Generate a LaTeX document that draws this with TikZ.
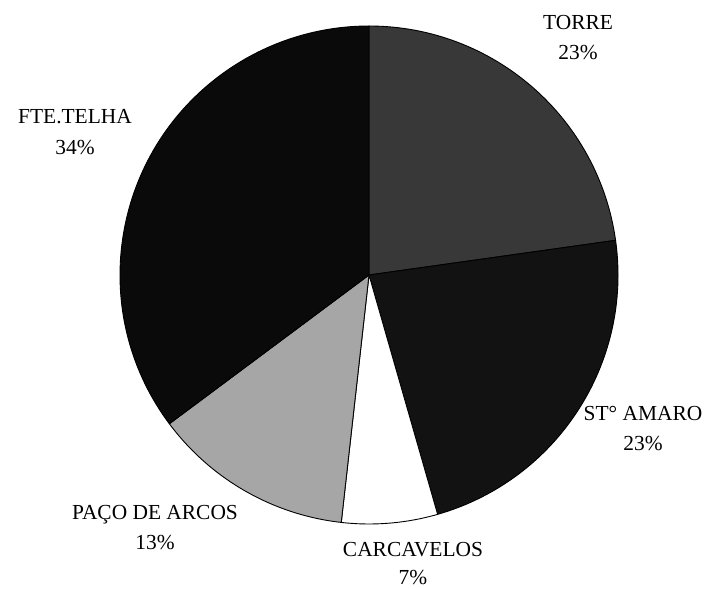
\documentclass[tikz,border=0pt]{standalone}
\usepackage{fontspec}
\setmainfont{Liberation Serif}
\usetikzlibrary{positioning}

\tikzset{
  slice/.style = {draw=black, line width=0.9bp, line join=round},
  lbl/.style   = {anchor=base, inner sep=0pt, font=\fontsize{21.5}{26}\selectfont}
}

\begin{document}
\begin{tikzpicture}[x=1bp, y=1bp]
  \useasboundingbox (0,0) rectangle (710,589);
  \coordinate (C) at (369,314);
  % slices
  \filldraw[slice, fill=black!78] (C) -- ++(90:249) arc (90:8:249) -- cycle;
  \filldraw[slice, fill=black!93] (C) -- ++(8:249) arc (8:-74:249) -- cycle;
  \filldraw[slice, fill=white] (C) -- ++(-74:249) arc (-74:-96.4:249) -- cycle;
  \filldraw[slice, fill=black!35] (C) -- ++(-96.4:249) arc (-96.4:-143.3:249) -- cycle;
  \filldraw[slice, fill=black!96] (C) -- ++(-143.3:249) arc (-143.3:-270:249) -- cycle;
  % labels
  \node (torre) [lbl] at (578,559) {TORRE};
  \node (torrep) [lbl] at ([yshift=-30bp]torre.base) {23\%};
  \node (telha) [lbl] at (75,465) {FTE.TELHA};
  \node (telhap) [lbl] at ([yshift=-31bp]telha.base) {34\%};
  \node (amaro) [lbl] at (643,168) {ST° AMARO};
  \node (amarop) [lbl] at ([yshift=-30bp]amaro.base) {23\%};
  \node (paco) [lbl] at (155,69) {PAÇO DE ARCOS};
  \node (pacop) [lbl] at ([yshift=-30bp]paco.base) {13\%};
  \node (carca) [lbl] at (413,32) {CARCAVELOS};
  \node (carcap) [lbl] at ([yshift=-28bp]carca.base) {7\%};
\end{tikzpicture}
\end{document}
